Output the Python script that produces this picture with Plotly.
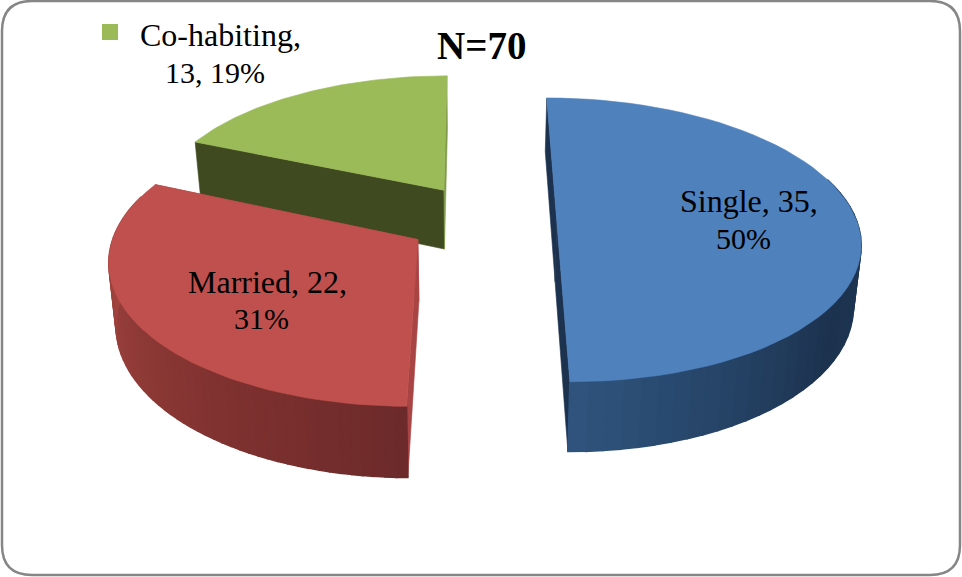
import math
import plotly.graph_objects as go

categories = ["Single", "Married", "Co-habiting"]
values = [35, 22, 13]
percents = [50, 31, 19]
top_colors = ["#4f81bd", "#c0504d", "#9bbb59"]

W, H = 962, 577
# pie-plane -> screen projection (perspective camera)
XV, YV, A, C, Z0, DEPTH, BOTTOM_SCALE = 471, -833, 2268, 7969, 7.56, 458, 0.98
OFFSETS = [(0.286, 0.0), (-0.174, -0.13), (-0.093, 0.228)]
ROTATION = [0.0, 0.5, 0.0]
RADIUS = [1.0, 1.0, 0.98]


def top(u, v):
    z = Z0 + v
    return XV + A * u / z, YV + C / z


def bottom(u, v):
    z = Z0 + v
    return XV + BOTTOM_SCALE * A * u / z, YV + (C + DEPTH) / z


def lerp_color(stops, t):
    for (t0, c0), (t1, c1) in zip(stops, stops[1:]):
        if t <= t1:
            f = (t - t0) / (t1 - t0) if t1 > t0 else 0
            rgb = [round(c0[i] + (c1[i] - c0[i]) * f) for i in range(3)]
            return f"rgb({rgb[0]},{rgb[1]},{rgb[2]})"
    c = stops[-1][1]
    return f"rgb({c[0]},{c[1]},{c[2]})"


WALL_STOPS = [
    [(180, (48, 84, 126)), (150, (36, 66, 100)), (125, (28, 50, 78)), (100, (30, 54, 84)), (60, (30, 54, 84))],
    [(180, (108, 42, 42)), (215, (128, 50, 48)), (250, (150, 62, 58)), (285, (172, 72, 68)), (300, (176, 74, 70))],
    [(293, (63, 74, 32)), (360, (63, 74, 32))],
]
CUT_COLORS = [
    ("#1c324e", "#1c324e"),
    ("#a84544", "#a84544"),
    ("#3f4a20", "#7e9a48"),
]

fig = go.Figure()


def poly(pts, color, lw=0.6):
    xs = [p[0] for p in pts] + [pts[0][0]]
    ys = [p[1] for p in pts] + [pts[0][1]]
    fig.add_trace(go.Scatter(x=xs, y=ys, mode="lines", fill="toself", fillcolor=color,
                             line=dict(color=color, width=lw), hoverinfo="skip", showlegend=False))


total = sum(values)
bounds = []
acc = 0
for val in values:
    bounds.append((acc / total * 360, (acc + val) / total * 360))
    acc += val

for idx in [2, 1, 0]:
    t0, t1 = bounds[idx]
    t0 += ROTATION[idx]
    t1 += ROTATION[idx]
    du, dv = OFFSETS[idx]
    rad = RADIUS[idx]
    n = 60
    thetas = [t0 + (t1 - t0) * k / n for k in range(n + 1)]
    rim = [(du + rad * math.sin(math.radians(t)), dv + rad * math.cos(math.radians(t))) for t in thetas]
    apex = (du, dv)
    # flat cut faces
    poly([top(*apex), top(*rim[0]), bottom(*rim[0]), bottom(*apex)], CUT_COLORS[idx][0])
    poly([top(*apex), top(*rim[-1]), bottom(*rim[-1]), bottom(*apex)], CUT_COLORS[idx][1])
    # curved outer wall
    for k in range(n):
        mid = (thetas[k] + thetas[k + 1]) / 2
        if math.cos(math.radians(mid)) < 0.3:
            a, b = rim[k], rim[k + 1]
            stops = sorted(WALL_STOPS[idx], key=lambda s: s[0])
            poly([top(*a), top(*b), bottom(*b), bottom(*a)], lerp_color(stops, mid), lw=1.5)
    # top face
    poly([top(*apex)] + [top(*p) for p in rim], top_colors[idx])

# legend key for the co-habiting label
fig.add_trace(go.Scatter(x=[110], y=[32], mode="markers",
                         marker=dict(symbol="square", size=16, color=top_colors[2]),
                         hoverinfo="skip", showlegend=False))

label_lines = [
    (f"{categories[0]}, {values[0]},", 749, 201, 32),
    (f"{percents[0]}%", 743, 238, 30),
    (f"{categories[1]}, {values[1]},", 267, 282, 32),
    (f"{percents[1]}%", 261, 318, 30),
    (f"{categories[2]},", 220, 35, 32),
    (f"{values[2]}, {percents[2]}%", 215, 72, 30),
]
for txt, x, y, size in label_lines:
    fig.add_annotation(x=x, y=y, text=txt, showarrow=False,
                       font=dict(family="Liberation Serif", size=size, color="#000000"))
fig.add_annotation(x=481, y=45, text=f"<b>N={total}</b>", showarrow=False,
                   font=dict(family="Liberation Serif", size=39, color="#000000"))

# rounded chart-area frame
x0, y0, x1, y1, r = 2, 1, 960, 575, 30
frame = (f"M{x0 + r},{y0} L{x1 - r},{y0} Q{x1},{y0} {x1},{y0 + r} L{x1},{y1 - r} "
         f"Q{x1},{y1} {x1 - r},{y1} L{x0 + r},{y1} Q{x0},{y1} {x0},{y1 - r} "
         f"L{x0},{y0 + r} Q{x0},{y0} {x0 + r},{y0} Z")
fig.add_shape(type="path", path=frame, line=dict(color="#868686", width=2.5), layer="above")

fig.update_layout(
    width=W, height=H, margin=dict(l=0, r=0, t=0, b=0),
    paper_bgcolor="white", plot_bgcolor="white", showlegend=False,
    xaxis=dict(range=[0, W], visible=False, fixedrange=True),
    yaxis=dict(range=[H, 0], visible=False, fixedrange=True),
)
fig.write_html("out.html", config={"displayModeBar": False},
               post_script="document.body.style.margin='0';document.documentElement.style.overflow='hidden';")
